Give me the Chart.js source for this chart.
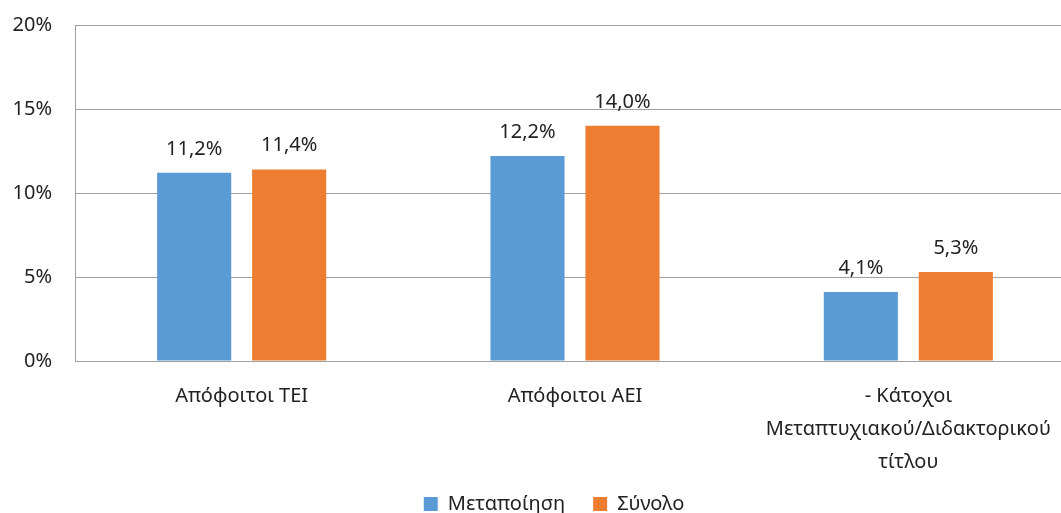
<!DOCTYPE html>
<html>
<head>
<meta charset="utf-8">
<script src="https://cdn.jsdelivr.net/npm/chart.js@4"></script>
<style>
    html, body { margin: 0; padding: 0; background: #fff; }
</style>
</head>
<body>
<canvas id="chart" width="1061" height="513"></canvas>
<script>
const categories = ['Απόφοιτοι ΤΕΙ', 'Απόφοιτοι ΑΕΙ', ['- Κάτοχοι', 'Μεταπτυχιακού/Διδακτορικού', 'τίτλου']];
const metapoiisi = [11.2, 12.2, 4.1];
const synolo = [11.4, 14.0, 5.3];
const seriesNames = ['Μεταποίηση', 'Σύνολο'];
const yTicks = [0, 5, 10, 15, 20];

const FONT = 'Noto Sans';

// labels above each bar, greek decimal comma
const barLabels = {
    id: 'barLabels',
    afterDatasetsDraw(chart) {
        const ctx = chart.ctx;
        ctx.save();
        ctx.font = '20px "' + FONT + '"';
        ctx.fillStyle = '#222';
        ctx.textAlign = 'center';
        ctx.textBaseline = 'alphabetic';
        chart.data.datasets.forEach(function (ds, i) {
            chart.getDatasetMeta(i).data.forEach(function (bar, j) {
                ctx.fillText(ds.data[j].toFixed(1).replace('.', ',') + '%', bar.x, bar.y - 18);
            });
        });
        ctx.restore();
    }
};

// small layout tweaks: in the original the category axis runs a bit past the
// right edge, the 3-line label needs room, and the legend sits a bit left
const layoutTweaks = {
    id: 'layoutTweaks',
    afterLayout(chart) {
        const x = chart.scales.x;
        x.right += 14;
        x.width += 14;
        x.bottom += 14;
        x.height += 14;
        x.configure();
        x._labelItems = null;
        chart.legend.left -= 14;
        chart.legend.right -= 14;
    }
};

const ctx = document.getElementById('chart').getContext('2d');
new Chart(ctx, {
    type: 'bar',
    data: {
        labels: categories,
        datasets: [{
            label: seriesNames[0],
            data: metapoiisi,
            backgroundColor: '#5b9bd5',
            categoryPercentage: 0.57,
            barPercentage: 0.78
        }, {
            label: seriesNames[1],
            data: synolo,
            backgroundColor: '#ed7d31',
            categoryPercentage: 0.57,
            barPercentage: 0.78
        }]
    },
    options: {
        responsive: false,
        animation: false,
        layout: { padding: { left: 12, right: 0, top: 25, bottom: -11 } },
        plugins: {
            legend: {
                position: 'bottom',
                fullSize: false,
                labels: {
                    boxWidth: 14,
                    boxHeight: 14,
                    padding: 28,
                    color: '#222',
                    font: { family: FONT, size: 20, lineHeight: 1 }
                }
            },
            tooltip: { enabled: false }
        },
        scales: {
            x: {
                grid: { display: false },
                border: { color: '#a0a0a0', width: 1 },
                afterFit(axis) { axis.height = 105; },
                ticks: {
                    color: '#222',
                    padding: 11,
                    maxRotation: 0,
                    autoSkip: false,
                    font: { family: FONT, size: 20, lineHeight: 1.65 }
                }
            },
            y: {
                min: 0,
                max: 20,
                afterBuildTicks(axis) {
                    axis.ticks = yTicks.map(function (v) { return { value: v }; });
                },
                afterFit(axis) {
                    axis.width = 63;
                    axis.paddingTop = 0;
                    axis.paddingBottom = 0;
                },
                grid: { color: '#a0a0a0', drawTicks: false },
                border: { color: '#a0a0a0', width: 1 },
                ticks: {
                    color: '#222',
                    padding: 23,
                    font: { family: FONT, size: 20 },
                    callback: function (v) { return v + '%'; }
                }
            }
        }
    },
    plugins: [barLabels, layoutTweaks]
});
</script>
</body>
</html>
